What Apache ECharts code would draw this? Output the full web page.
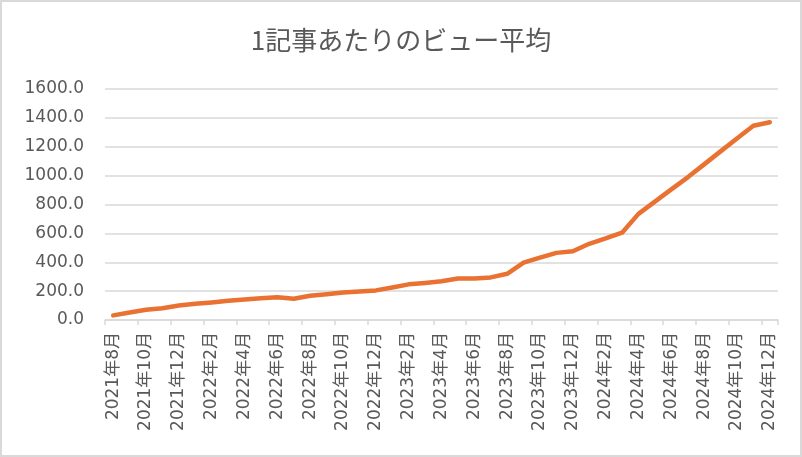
<!DOCTYPE html>
<html>
<head>
<meta charset="utf-8">
<script src="https://cdn.jsdelivr.net/npm/echarts@6/dist/echarts.min.js"></script>
<style>
html,body{margin:0;padding:0;background:#fff;}
#c{width:802px;height:457px;box-sizing:border-box;border:2px solid #d9d9d9;}
</style>
</head>
<body>
<div id="c"></div>
<script>
const categories = [
  "2021年8月","2021年9月","2021年10月","2021年11月","2021年12月",
  "2022年1月","2022年2月","2022年3月","2022年4月","2022年5月","2022年6月",
  "2022年7月","2022年8月","2022年9月","2022年10月","2022年11月","2022年12月",
  "2023年1月","2023年2月","2023年3月","2023年4月","2023年5月","2023年6月",
  "2023年7月","2023年8月","2023年9月","2023年10月","2023年11月","2023年12月",
  "2024年1月","2024年2月","2024年3月","2024年4月","2024年5月","2024年6月",
  "2024年7月","2024年8月","2024年9月","2024年10月","2024年11月","2024年12月"
];
const views = [
  32, 52, 71, 82, 100,
  112, 122, 134, 142, 150, 158,
  147, 168, 178, 190, 198, 205,
  225, 247, 257, 268, 287, 288,
  295, 320, 397, 432, 465, 476,
  528, 565, 605, 735, 820, 905,
  988, 1078, 1168, 1257, 1345, 1370
];
const yTicks = { min: 0, max: 1600, interval: 200 };
const titleText = "1記事あたりのビュー平均";

const chart = echarts.init(document.getElementById('c'), null, {renderer: 'canvas'});
const labelFont = "'DejaVu Sans', 'Noto Sans CJK JP', sans-serif";
chart.setOption({
  animation: false,
  backgroundColor: '#fff',
  title: {
    text: titleText,
    left: 'center',
    top: 20,
    textStyle: {
      fontFamily: "'Noto Sans CJK JP', sans-serif",
      fontSize: 26,
      fontWeight: 'normal',
      color: '#595959'
    }
  },
  grid: { left: 103, right: 22, top: 87, bottom: 135, containLabel: false },
  xAxis: {
    type: 'category',
    data: categories,
    boundaryGap: true,
    axisLine: { lineStyle: { color: '#d9d9d9', width: 1.5 } },
    axisTick: { show: true, interval: 1, length: 5, lineStyle: { color: '#d9d9d9', width: 1.5 } },
    axisLabel: {
      interval: 1,
      rotate: 90,
      margin: 12,
      color: '#595959',
      fontSize: 17,
      fontFamily: labelFont
    }
  },
  yAxis: {
    type: 'value',
    min: yTicks.min,
    max: yTicks.max,
    interval: yTicks.interval,
    axisLine: { show: false },
    axisTick: { show: false },
    splitLine: { lineStyle: { color: '#d9d9d9', width: 1.5 } },
    axisLabel: {
      margin: 21,
      color: '#595959',
      fontSize: 17,
      fontFamily: labelFont,
      formatter: v => v.toFixed(1)
    }
  },
  series: [{
    type: 'line',
    data: views,
    symbol: 'none',
    smooth: false,
    lineStyle: { color: '#E97132', width: 4.5, cap: 'round', join: 'round' }
  }]
});
</script>
</body>
</html>
